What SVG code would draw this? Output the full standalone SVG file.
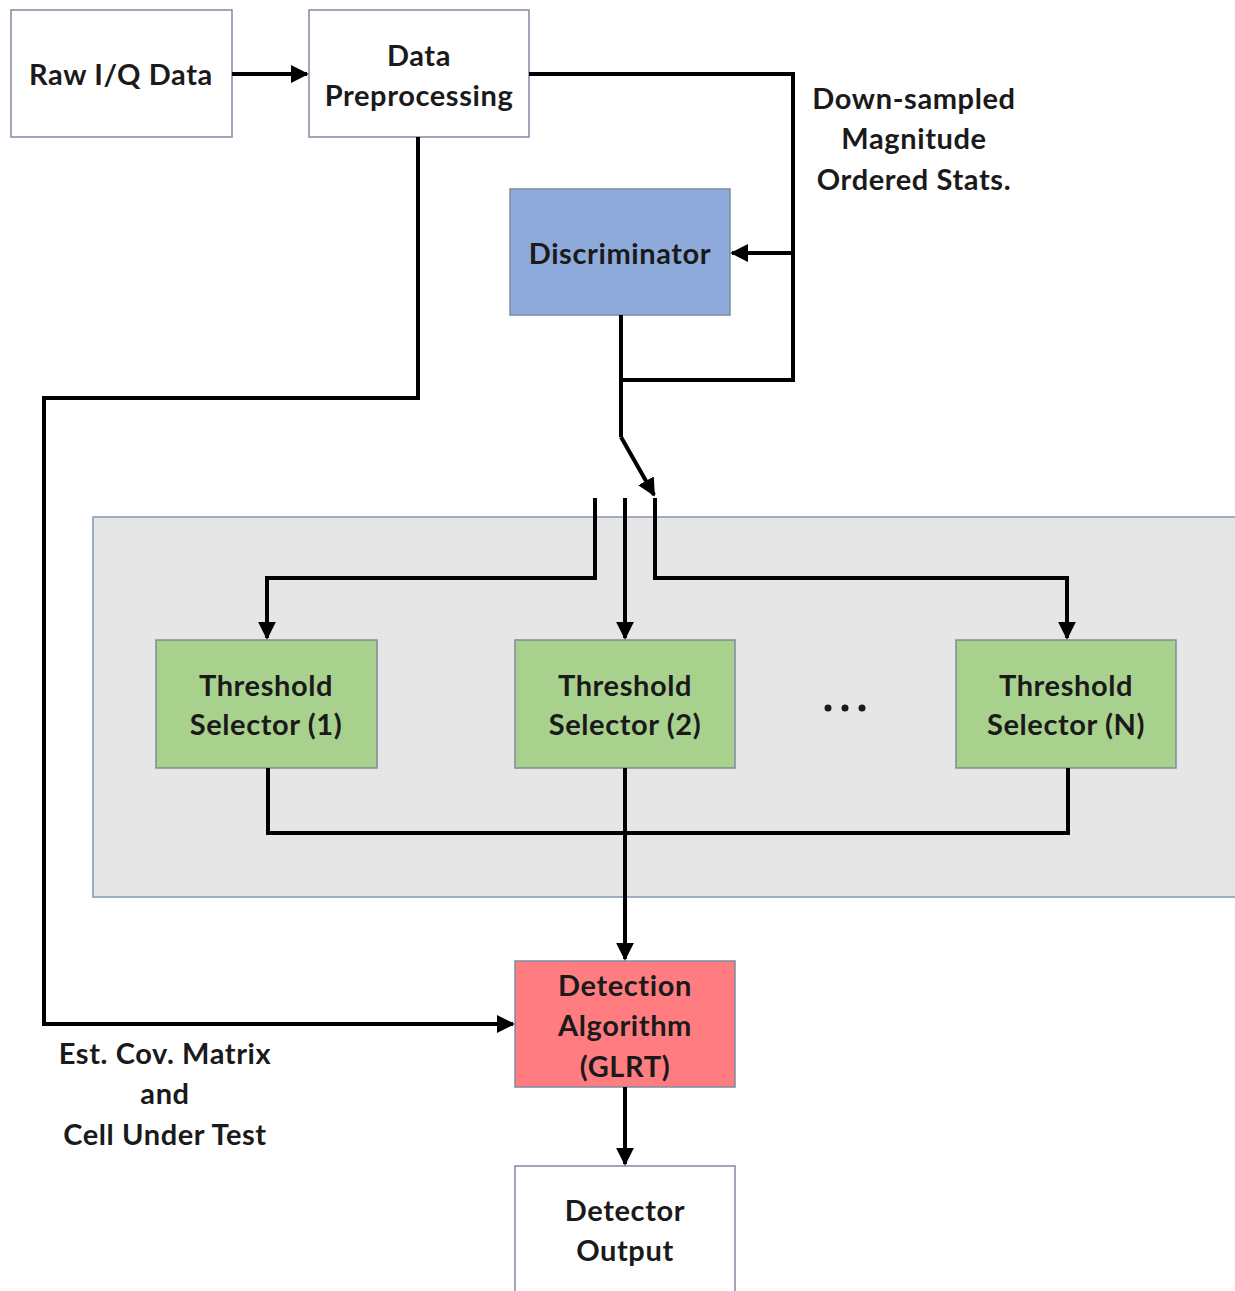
<svg xmlns="http://www.w3.org/2000/svg" width="1235" height="1291" viewBox="0 0 1235 1291">
  <style>
    .box { stroke: #7f8aa0; stroke-width: 1.5; }
    .plain { fill: #ffffff; }
    .blue { fill: #8eaadb; }
    .green { fill: #a9d18e; }
    .red { fill: #ff7c80; }
    .panel { fill: #e7e6e6; stroke: #8497b0; stroke-width: 1.5; }
    .lbl { font-family: Lato, "Open Sans", "Liberation Sans", sans-serif; font-weight: bold; font-size: 29px; letter-spacing: 0.6px; fill: #1a1a1a; text-anchor: middle; dominant-baseline: central; }
    .wire { fill: none; stroke: #000; stroke-width: 4; stroke-linejoin: miter; }
    .arr { marker-end: url(#head); }
  </style>
  <defs>
    <marker id="head" viewBox="0 0 10 10" refX="9" refY="5" markerWidth="4.5" markerHeight="4.5" orient="auto" markerUnits="strokeWidth">
      <path d="M0,0 L10,5 L0,10 z" fill="#000"/>
    </marker>
  </defs>

  <rect width="1235" height="1291" fill="#ffffff"/>

  <!-- grey enclosure for the selector bank -->
  <rect id="selector-bank" class="panel" x="93" y="517" width="1145" height="380"/>

  <g id="raw-iq">
    <rect class="box plain" x="11" y="10" width="221" height="127"/>
    <text class="lbl" x="121" y="73">Raw I/Q Data</text>
  </g>

  <g id="preprocessing">
    <rect class="box plain" x="309" y="10" width="220" height="127"/>
    <text class="lbl" x="419" y="54">Data</text>
    <text class="lbl" x="419" y="94">Preprocessing</text>
  </g>

  <g id="discriminator">
    <rect class="box blue" x="510" y="189" width="220" height="126"/>
    <text class="lbl" x="620" y="252">Discriminator</text>
  </g>

  <g id="threshold-1">
    <rect class="box green" x="156" y="640" width="221" height="128"/>
    <text class="lbl" x="266" y="684">Threshold</text>
    <text class="lbl" x="266" y="723">Selector (1)</text>
  </g>

  <g id="threshold-2">
    <rect class="box green" x="515" y="640" width="220" height="128"/>
    <text class="lbl" x="625" y="684">Threshold</text>
    <text class="lbl" x="625" y="723">Selector (2)</text>
  </g>

  <g id="ellipsis">
    <circle cx="828" cy="708" r="3.5" fill="#1a1a1a"/>
    <circle cx="845" cy="708" r="3.5" fill="#1a1a1a"/>
    <circle cx="862" cy="708" r="3.5" fill="#1a1a1a"/>
  </g>

  <g id="threshold-n">
    <rect class="box green" x="956" y="640" width="220" height="128"/>
    <text class="lbl" x="1066" y="684">Threshold</text>
    <text class="lbl" x="1066" y="723">Selector (N)</text>
  </g>

  <g id="detection">
    <rect class="box red" x="515" y="961" width="220" height="126"/>
    <text class="lbl" x="625" y="984">Detection</text>
    <text class="lbl" x="625" y="1024">Algorithm</text>
    <text class="lbl" x="625" y="1065">(GLRT)</text>
  </g>

  <g id="detector-output">
    <rect class="box plain" x="515" y="1166" width="220" height="130"/>
    <text class="lbl" x="625" y="1209">Detector</text>
    <text class="lbl" x="625" y="1249">Output</text>
  </g>

  <g id="labels">
    <text class="lbl" x="914" y="97">Down-sampled</text>
    <text class="lbl" x="914" y="137">Magnitude</text>
    <text class="lbl" x="914" y="178">Ordered Stats.</text>
    <text class="lbl" x="165" y="1052">Est. Cov. Matrix</text>
    <text class="lbl" x="165" y="1092">and</text>
    <text class="lbl" x="165" y="1133">Cell Under Test</text>
  </g>

  <g id="connectors">
    <!-- raw data into preprocessing -->
    <path class="wire arr" d="M232,74 H307"/>
    <!-- preprocessing feature path, loops to discriminator and switch -->
    <path class="wire" d="M529,74 H793 V380 H621"/>
    <path class="wire arr" d="M793,253 H732"/>
    <!-- discriminator output to switch -->
    <path class="wire" d="M621,315 V437"/>
    <path class="wire arr" d="M621,437 L654,495"/>
    <!-- switch contacts -->
    <path class="wire arr" d="M595,498 V578 H267 V638"/>
    <path class="wire arr" d="M625,498 V638"/>
    <path class="wire arr" d="M655,498 V578 H1067 V638"/>
    <!-- selector outputs combined -->
    <path class="wire" d="M268,768 V833 H1068 V768"/>
    <path class="wire arr" d="M625,768 V959"/>
    <!-- covariance / CUT path -->
    <path class="wire arr" d="M418,137 V398 H44 V1024 H513"/>
    <!-- detection result -->
    <path class="wire arr" d="M625,1087 V1164"/>
  </g>
</svg>
